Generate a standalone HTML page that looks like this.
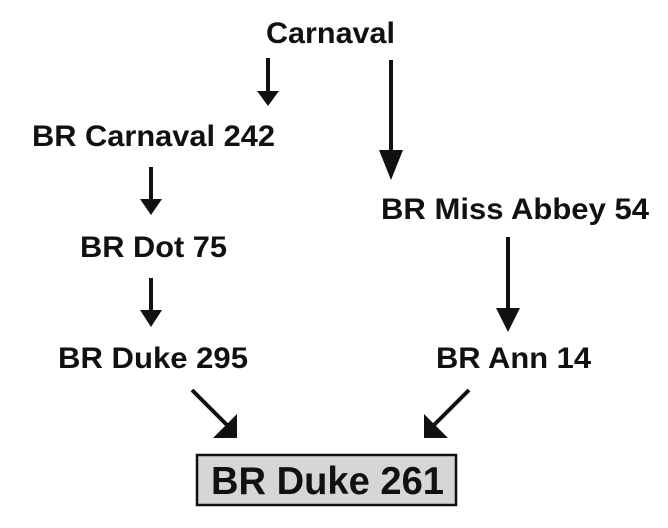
<!DOCTYPE html>
<html><head><style>html,body{margin:0;padding:0;background:#fff}svg{display:block}</style></head>
<body>
<svg width="668" height="528" viewBox="0 0 668 528" xmlns="http://www.w3.org/2000/svg">
<g font-family="Liberation Sans, Arial, sans-serif" font-weight="bold" fill="#111" font-size="30">
<text x="266" y="43" textLength="129" lengthAdjust="spacingAndGlyphs">Carnaval</text>
<text x="32" y="146" textLength="243" lengthAdjust="spacingAndGlyphs">BR Carnaval 242</text>
<text x="381" y="219" textLength="268" lengthAdjust="spacingAndGlyphs">BR Miss Abbey 54</text>
<text x="80" y="257" textLength="147" lengthAdjust="spacingAndGlyphs">BR Dot 75</text>
<text x="58" y="368" textLength="190" lengthAdjust="spacingAndGlyphs">BR Duke 295</text>
<text x="436" y="368" textLength="155" lengthAdjust="spacingAndGlyphs">BR Ann 14</text>
</g>
<rect x="197" y="455" width="259" height="50" fill="#d6d6d6" stroke="#111" stroke-width="2.5"/>
<text x="211" y="494" font-family="Liberation Sans, Arial, sans-serif" font-weight="bold" font-size="39" fill="#111" textLength="233" lengthAdjust="spacingAndGlyphs">BR Duke 261</text>
<g stroke="#111" stroke-width="4" fill="#111">
<line x1="268" y1="58" x2="268" y2="92"/>
<line x1="391" y1="60" x2="391" y2="155"/>
<line x1="151" y1="167" x2="151" y2="200"/>
<line x1="151" y1="278" x2="151" y2="312"/>
<line x1="508" y1="237" x2="508" y2="310"/>
<line x1="192" y1="390" x2="228" y2="426"/>
<line x1="469" y1="390" x2="433" y2="426"/>
</g>
<g fill="#111">
<polygon points="257,91 279,91 268,106"/>
<polygon points="379,150 403,150 391,180"/>
<polygon points="140,199 162,199 151,215"/>
<polygon points="140,310 162,310 151,327"/>
<polygon points="496,308 520,308 508,332"/>
<polygon points="237,414 237,438 213,438"/>
<polygon points="424,414 424,438 448,438"/>
</g>
</svg>
</body></html>
